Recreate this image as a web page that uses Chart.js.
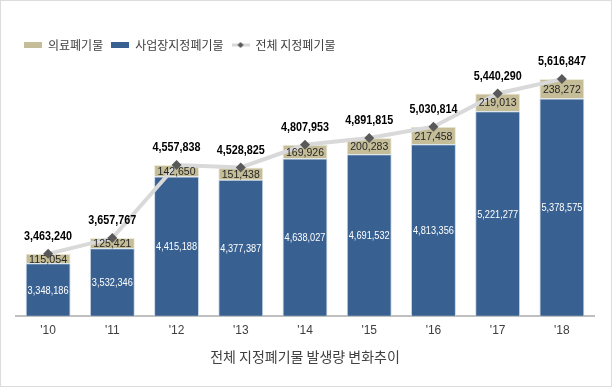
<!DOCTYPE html>
<html>
<head>
<meta charset="utf-8">
<script src="https://cdn.jsdelivr.net/npm/chart.js@4/dist/chart.umd.min.js"></script>
<style>
  html, body { margin: 0; padding: 0; background: #fff; }
  #wrap { width: 612px; height: 387px; box-sizing: border-box; border: 1px solid #dcdcdc; }
  canvas { display: block; }
</style>
</head>
<body>
<div id="wrap"><canvas id="c" width="610" height="385"></canvas></div>
<script>
// 연도별 지정폐기물 발생량 (톤)
const years = ["'10", "'11", "'12", "'13", "'14", "'15", "'16", "'17", "'18"]
const medical = [115054, 125421, 142650, 151438, 169926, 200283, 217458, 219013, 238272]
const business = [3348186, 3532346, 4415188, 4377387, 4638027, 4691532, 4813356, 5221277, 5378575]
const total = [3463240, 3657767, 4557838, 4528825, 4807953, 4891815, 5030814, 5440290, 5616847]

const BLUE = '#386192'
const TAN = '#c4bd97'
const LINE = '#d9d9d9'
const MARK = '#595959'
const FONT = '"Noto Sans CJK KR", "Noto Sans", sans-serif'
const NUMFONT = '"Liberation Sans", Arial, sans-serif'

const fmt = v => v.toLocaleString('en-US')

// small canvases used as legend symbols
function swatch(color) {
  const c = document.createElement('canvas')
  c.width = 18; c.height = 6
  const x = c.getContext('2d')
  x.fillStyle = color
  x.fillRect(0, 0, 18, 6)
  return c
}
function lineSwatch() {
  const c = document.createElement('canvas')
  c.width = 18; c.height = 8
  const x = c.getContext('2d')
  x.strokeStyle = LINE; x.lineWidth = 3
  x.beginPath(); x.moveTo(0, 4); x.lineTo(18, 4); x.stroke()
  x.fillStyle = MARK
  x.beginPath(); x.moveTo(9, 1); x.lineTo(12, 4); x.lineTo(9, 7); x.lineTo(6, 4); x.closePath(); x.fill()
  return c
}

// value labels on bars and above the line
const labelPlugin = {
  id: 'valueLabels',
  afterDatasetsDraw(chart) {
    const ctx = chart.ctx
    const area = chart.chartArea
    ctx.save()
    ctx.textAlign = 'center'
    ctx.textBaseline = 'middle'

    const bMeta = chart.getDatasetMeta(0)
    const mMeta = chart.getDatasetMeta(1)
    const lMeta = chart.getDatasetMeta(2)

    // squeeze a little so the numbers fit inside the bars like the original
    ctx.font = '11px ' + NUMFONT
    bMeta.data.forEach((bar, i) => {
      const bottom = Math.min(bar.base, area.bottom)
      ctx.fillStyle = '#ffffff'
      ctx.fillText(fmt(business[i]), bar.x, (bar.y + bottom) / 2 + 1, 41)
    })
    mMeta.data.forEach((bar, i) => {
      ctx.fillStyle = '#262626'
      ctx.fillText(fmt(medical[i]), bar.x, (bar.y + bar.base) / 2 + 1, 38)
    })
    ctx.font = 'bold 12px ' + NUMFONT
    lMeta.data.forEach((pt, i) => {
      ctx.fillStyle = '#000000'
      ctx.fillText(fmt(total[i]), pt.x, pt.y - 17, 48)
    })
    ctx.restore()
  }
}

const legendOrder = [1, 0, 2]
const legendIcons = { 0: swatch(BLUE), 1: swatch(TAN), 2: lineSwatch() }

new Chart(document.getElementById('c'), {
  data: {
    labels: years,
    datasets: [
      {
        type: 'bar',
        label: '사업장지정폐기물',
        data: business,
        backgroundColor: BLUE,
        borderColor: '#c9d6e6',
        borderWidth: 1,
        stack: 'waste',
        order: 2
      },
      {
        type: 'bar',
        label: '의료폐기물',
        data: medical,
        backgroundColor: TAN,
        borderColor: '#ecead9',
        borderWidth: 1,
        stack: 'waste',
        order: 2
      },
      {
        type: 'line',
        label: '전체 지정폐기물',
        data: total,
        borderColor: LINE,
        borderWidth: 4,
        pointStyle: 'rectRot',
        pointRadius: 5,
        pointBackgroundColor: MARK,
        pointBorderWidth: 0,
        stack: 'total',
        order: 1
      }
    ]
  },
  options: {
    responsive: false,
    animation: false,
    layout: { padding: { top: 30, left: 15, right: 17, bottom: 9 } },
    datasets: {
      bar: { categoryPercentage: 1, barPercentage: 0.7 }
    },
    scales: {
      x: {
        stacked: true,
        grid: { display: false },
        border: { display: true, color: '#bfbfbf', width: 2 },
        ticks: { color: '#404040', font: { family: NUMFONT, size: 12 }, padding: 0 }
      },
      y: {
        display: false,
        stacked: true,
        min: 2700000,
        max: 5840000
      }
    },
    plugins: {
      legend: {
        position: 'top',
        align: 'start',
        labels: {
          usePointStyle: true,
          pointStyleWidth: 18,
          boxHeight: 8,
          padding: 8,
          color: '#404040',
          font: { family: FONT, size: 12 },
          generateLabels(chart) {
            return legendOrder.map(i => ({
              text: chart.data.datasets[i].label,
              pointStyle: legendIcons[i],
              datasetIndex: i,
              fillStyle: 'transparent',
              strokeStyle: 'transparent',
              lineWidth: 0,
              fontColor: '#404040'
            }))
          }
        }
      },
      title: {
        display: true,
        position: 'bottom',
        text: '전체 지정폐기물 발생량 변화추이',
        color: '#404040',
        font: { family: FONT, size: 14, weight: 'normal' },
        padding: { top: 10, bottom: 12 }
      },
      tooltip: { enabled: false }
    }
  },
  plugins: [labelPlugin]
})
</script>
</body>
</html>
